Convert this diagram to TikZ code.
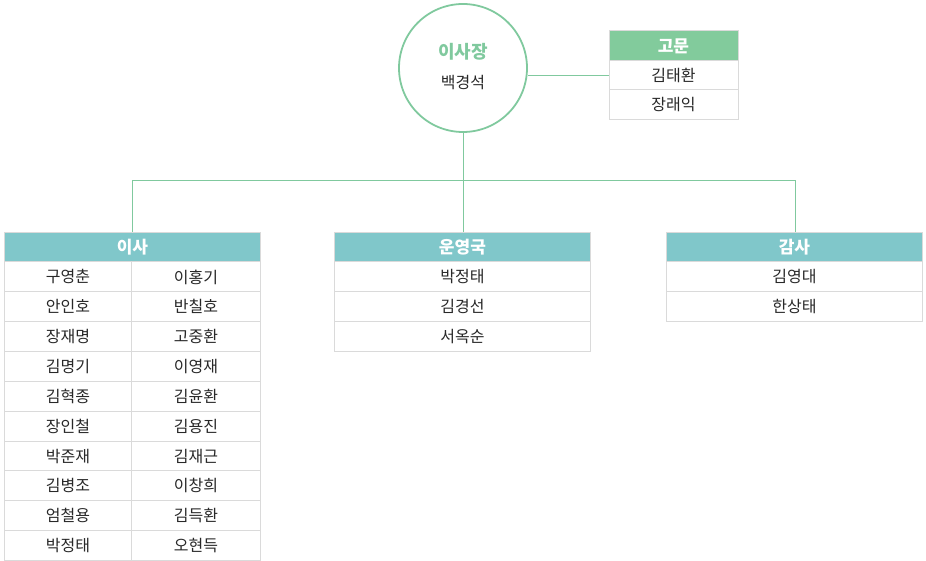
\documentclass[tikz,border=0pt]{standalone}
\usepackage{fontspec}
\setmainfont{Noto Sans CJK KR}
\begin{document}
\begin{tikzpicture}[x=1pt,y=-1pt,
  conn/.style={draw=linegreen, line width=1pt},
  cell/.style={draw=gridgray, line width=0.9pt, fill=white, minimum height=30pt, inner sep=0pt, font=\fontsize{16}{18}\selectfont, text=textdark, anchor=north west},
  headt/.style={draw=gridgray, line width=0.9pt, fill=headteal, minimum height=30pt, inner sep=0pt, font=\fontsize{17}{19}\bfseries\selectfont, text=white, anchor=north west},
  headg/.style={draw=gridgray, line width=0.9pt, fill=headgreen, minimum height=30pt, inner sep=0pt, font=\fontsize{17}{19}\bfseries\selectfont, text=white, anchor=north west}]
\definecolor{linegreen}{RGB}{128,201,158}
\definecolor{gridgray}{RGB}{218,218,218}
\definecolor{headteal}{RGB}{128,199,202}
\definecolor{headgreen}{RGB}{130,203,156}
\definecolor{textdark}{RGB}{40,40,40}
\useasboundingbox (0,0) rectangle (926,561);
% chairman
\node (chair) [circle, draw=linegreen, line width=1.8pt, minimum size=128pt, inner sep=0pt] at (463,68) {};
\node (chairT) [font=\fontsize{18}{20}\bfseries\selectfont, text=linegreen] at (463,52) {이사장};
\node (chairN) [font=\fontsize{16}{18}\selectfont, text=textdark] at (463,83) {백경석};
% advisor
\node (advH) [headg, minimum width=129pt] at (608.5,30.5) {고문};
\node (adv1) [cell, minimum width=129pt] at (608.5,60) {김태환};
\node (adv2) [cell, minimum width=129pt] at (608.5,89.5) {장래익};
\coordinate (advL) at (608.5,76);
\draw[conn] (chair.east |- advL) -- (advL);
% tree
\coordinate (j) at (463,181);
\coordinate (jl) at (132,181);
\coordinate (jr) at (795,181);
% directors
\node (dirH) [headt, minimum width=256pt] at (4,232) {이사};
\foreach \a/\b [count=\i from 0] in {구영춘/이홍기,안인호/반칠호,장재명/고중환,김명기/이영재,김혁종/김윤환,장인철/김용진,박준재/김재근,김병조/이창희,엄철용/김득환,박정태/오현득}{
  \node (dL\i) [cell, minimum width=127pt] at (4,261.5+29.85*\i) {\a};
  \node (dR\i) [cell, minimum width=129pt] at (131,261.5+29.85*\i) {\b};
}
% operations
\node (opH) [headt, minimum width=256pt] at (334,232) {운영국};
\node (op1) [cell, minimum width=256pt] at (334,261.5) {박정태};
\node (op2) [cell, minimum width=256pt] at (334,291.3) {김경선};
\node (op3) [cell, minimum width=256pt] at (334,321.1) {서옥순};
% audit
\node (auH) [headt, minimum width=256pt] at (666,232) {감사};
\node (au1) [cell, minimum width=256pt] at (666,261.5) {김영대};
\node (au2) [cell, minimum width=256pt] at (666,291.3) {한상태};
% connectors
\draw[conn] (chair.south -| j) -- (opH.north -| j);
\draw[conn] (dirH.north -| jl) -- (jl) -- (jr) -- (auH.north -| jr);
\end{tikzpicture}
\end{document}
